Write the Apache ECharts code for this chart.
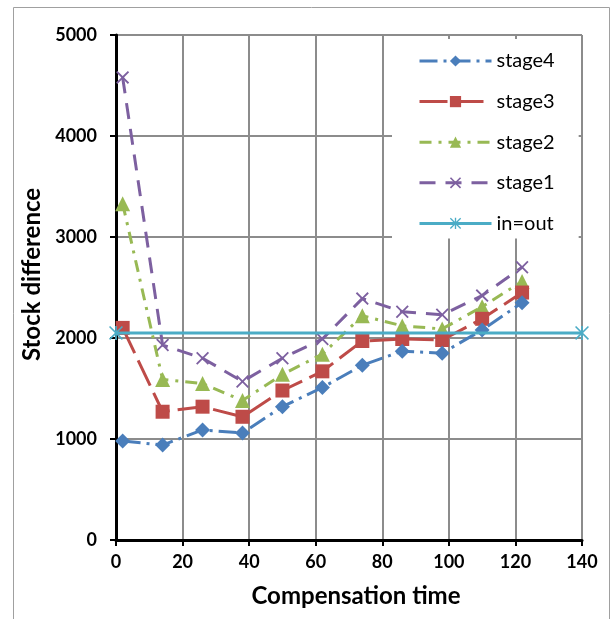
<!DOCTYPE html>
<html><head><meta charset="utf-8">
<script src="https://cdn.jsdelivr.net/npm/echarts@6/dist/echarts.min.js"></script>
<style>html,body{margin:0;padding:0;background:#fff}#c{width:612px;height:619px}</style>
</head><body><div id="c"></div>
<script>
const xValues = [2, 14, 26, 38, 50, 62, 74, 86, 98, 110, 122];
const stage4 = [980, 940, 1090, 1060, 1320, 1510, 1730, 1870, 1850, 2080, 2350];
const stage3 = [2100, 1270, 1320, 1220, 1480, 1670, 1970, 1990, 1980, 2190, 2450];
const stage2 = [3330, 1590, 1550, 1380, 1640, 1840, 2220, 2120, 2090, 2310, 2560];
const stage1 = [4580, 1930, 1800, 1570, 1800, 1990, 2390, 2260, 2230, 2420, 2700];
const inOutX = [0, 140];
const inOut = [2050, 2050];
const seriesNames = ['stage4', 'stage3', 'stage2', 'stage1', 'in=out'];

const pair = (xs, ys) => xs.map((x, i) => [x, ys[i]]);
const FONT = 'Lato';
const xSym = 'path://M0,1L1,0L5,4L9,0L10,1L6,5L10,9L9,10L5,6L1,10L0,9L4,5Z';
const astSym = 'path://M4.4,0H5.6V10H4.4Z M0.8,0L10,9.2L9.2,10L0,0.8Z M9.2,0L10,0.8L0.8,10L0,9.2Z';

const chart = echarts.init(document.getElementById('c'));
chart.setOption({
  animation: false,
  backgroundColor: '#fff',
  graphic: [{
    type: 'rect', shape: {x: 13.5, y: 7.5, width: 596, height: 640},
    style: {fill: 'none', stroke: '#a0a0a0', lineWidth: 1}, silent: true, z: -10
  }],
  grid: {left: 116, right: 30, top: 35, bottom: 79, containLabel: false},
  xAxis: {
    type: 'value', min: 0, max: 140, interval: 20,
    name: 'Compensation time', nameLocation: 'middle', nameGap: 44,
    nameTextStyle: {fontFamily: FONT, fontWeight: 'bold', fontSize: 24, color: '#000',
      padding: [0, 0, 0, 14]},
    axisLine: {show: true, onZero: false, lineStyle: {color: '#000', width: 3}},
    axisTick: {show: true, length: 6, lineStyle: {color: '#000', width: 2}},
    axisLabel: {fontFamily: FONT, fontWeight: 'bold', fontSize: 18, color: '#000', margin: 13},
    splitLine: {show: true, lineStyle: {color: '#8c8c8c', width: 2}}
  },
  yAxis: {
    type: 'value', min: 0, max: 5000, interval: 1000,
    name: 'Stock difference', nameLocation: 'middle', nameGap: 67, nameRotate: 90,
    nameTextStyle: {fontFamily: FONT, fontWeight: 'bold', fontSize: 24, color: '#000',
      padding: [0, 0, 0, 26]},
    axisLine: {show: true, lineStyle: {color: '#000', width: 3}},
    axisTick: {show: true, length: 6, lineStyle: {color: '#000', width: 2}},
    axisLabel: {fontFamily: FONT, fontWeight: 'bold', fontSize: 18, color: '#000', margin: 19,
      formatter: v => String(v)},
    splitLine: {show: true, lineStyle: {color: '#8c8c8c', width: 2}}
  },
  legend: {
    orient: 'vertical', left: 392, top: 39,
    backgroundColor: '#fff', padding: [12, 24, 5, 26],
    itemWidth: 72, itemHeight: 14, itemGap: 20.6,
    lineStyle: {width: 3},
    textStyle: {fontFamily: FONT, fontSize: 20, lineHeight: 20, color: '#000'},
    data: seriesNames
  },
  series: [
    {name: 'stage4', type: 'line', data: pair(xValues, stage4), color: '#4a7ebb',
     symbol: 'diamond', symbolSize: 15,
     lineStyle: {width: 3, type: [18, 6, 3, 6]}, z: 5},
    {name: 'stage3', type: 'line', data: pair(xValues, stage3), color: '#be4b48',
     symbol: 'rect', symbolSize: 14,
     lineStyle: {width: 3, type: [28, 8]}, z: 4},
    {name: 'stage2', type: 'line', data: pair(xValues, stage2), color: '#98b954',
     symbol: 'triangle', symbolSize: 15,
     lineStyle: {width: 3, type: [12, 7, 3, 7]}, z: 3},
    {name: 'stage1', type: 'line', data: pair(xValues, stage1), color: '#7d60a0',
     symbol: xSym, symbolSize: 13,
     lineStyle: {width: 3, type: [16, 10]}, z: 2},
    {name: 'in=out', type: 'line', data: pair(inOutX, inOut), color: '#4bacc6',
     symbol: astSym, symbolSize: 14,
     lineStyle: {width: 3, type: 'solid'}, z: 6}
  ]
});
</script></body></html>
